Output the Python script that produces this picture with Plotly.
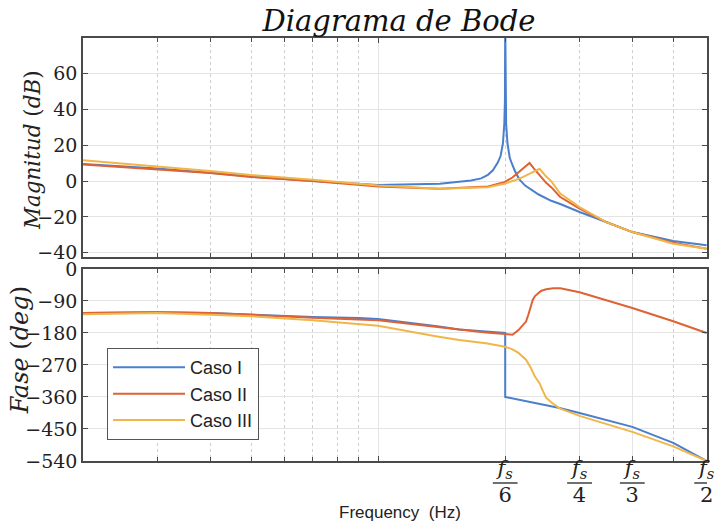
import math
import plotly.graph_objects as go

# ---------------- data ----------------
# Magnitude (dB)
f_mag_I = [200, 300, 400, 500, 700, 1000, 1400, 1660, 1754, 1820, 1870, 1922, 1950, 1975, 1990, 1997, 2000,
           2003, 2010, 2025, 2050, 2080, 2110, 2160, 2230, 2400, 2570, 2700, 3000, 3470, 4000, 5000, 6000]
mag_I = [9.5, 7.0, 4.7, 2.5, 0.0, -2.2, -1.5, 0.3, 1.5, 3.5, 6.0, 10.5, 14.0, 21.0, 32.0, 45.0, 90.0,
         45.0, 32.0, 21.0, 13.0, 9.0, 5.5, 1.0, -2.5, -7.5, -11.0, -12.8, -17.3, -22.9, -28.5, -33.5, -35.9]

f_mag_II = [200, 300, 400, 500, 700, 1000, 1400, 1820, 1990, 2080, 2150, 2220, 2284, 2340, 2393, 2440, 2500,
            2570, 2700, 3000, 3470, 4000, 5000, 6000]
mag_II = [9.3, 6.7, 4.5, 2.3, 0.0, -3.0, -4.3, -3.0, -0.6, 2.0, 5.0, 8.0, 10.1, 7.0, 4.1, 1.5, -1.0,
          -3.4, -8.9, -15.4, -22.9, -28.5, -34.5, -37.8]

f_mag_III = [200, 300, 400, 500, 700, 1000, 1400, 1820, 1990, 2100, 2200, 2300, 2413, 2450, 2500, 2570, 2700,
             3000, 3470, 4000, 5000, 6000]
mag_III = [11.6, 8.2, 5.6, 3.4, 0.8, -2.4, -4.3, -3.4, -1.5, 0.3, 2.2, 4.5, 6.9, 5.0, 2.5, 0.0, -7.0,
           -14.5, -22.9, -28.5, -35.0, -37.8]

# Phase (deg)
f_ph_I = [200, 300, 400, 500, 700, 900, 1000, 1380, 1556, 1800, 2000, 2000, 2430, 2690, 3000, 4000, 5000, 6000]
ph_I = [-124, -122, -124, -128.5, -135, -138, -141, -161, -170, -176, -180, -360, -379, -391, -405, -444, -489, -540]

f_ph_II = [200, 300, 400, 500, 700, 1000, 1380, 1556, 1800, 2000, 2080, 2150, 2200, 2240, 2270, 2300, 2323,
           2350, 2400, 2430, 2500, 2600, 2700, 3000, 4000, 5000, 6000]
ph_II = [-124, -122, -124, -130, -137, -144.5, -164, -172, -179, -183, -185, -172, -160, -148, -128, -105, -88,
         -77, -66, -62, -57, -54, -54.5, -65.7, -110, -147, -180]

f_ph_III = [200, 300, 400, 500, 700, 900, 1000, 1380, 1556, 1800, 2000, 2080, 2150, 2240, 2300, 2350, 2413,
            2460, 2500, 2570, 2640, 2690, 3000, 4000, 5000, 6000]
ph_III = [-127, -124, -128.5, -133, -144.5, -154, -160, -190, -200, -209, -219, -226, -236, -255, -278, -302, -322,
          -345, -362, -375, -386, -392, -413, -458, -499, -540]

names = ["Caso I", "Caso II", "Caso III"]
colors = ["#4A7FCC", "#DE6233", "#F0B64A"]

mag_tick_vals = [-40, -20, 0, 20, 40, 60]
phase_tick_vals = [-540, -450, -360, -270, -180, -90, 0]
fs_tick_vals = [2000, 3000, 4000, 6000]
fs_divisors = ["6", "4", "3", "2"]
minor_freqs = [300, 400, 500, 600, 700, 800, 900, 5000]

# ---------------- figure ----------------
fig = go.Figure()
mags = [(f_mag_I, mag_I), (f_mag_II, mag_II), (f_mag_III, mag_III)]
phs = [(f_ph_I, ph_I), (f_ph_II, ph_II), (f_ph_III, ph_III)]
for (fx, fy), nm, c in zip(mags, names, colors):
    fig.add_trace(go.Scatter(x=fx, y=fy, mode="lines", name=nm, line=dict(color=c, width=2),
                             xaxis="x", yaxis="y", showlegend=False))
for (fx, fy), nm, c in zip(phs, names, colors):
    fig.add_trace(go.Scatter(x=fx, y=fy, mode="lines", name=nm, line=dict(color=c, width=2),
                             xaxis="x2", yaxis="y2", showlegend=True))

serif = "DejaVu Serif"
sans = "Liberation Sans"
axcol = "#4a4a4a"
xr = [math.log10(200), math.log10(6000) + 0.0008]

frac_text = [""] + ["<i>f<sub>s</sub></i><br>" + d for d in fs_divisors]

common_x = dict(type="log", range=xr, domain=[0, 1], ticks="inside", ticklen=5, tickwidth=1, tickcolor=axcol,
                showline=True, linecolor=axcol, linewidth=1.5, mirror="ticks", showgrid=True,
                gridcolor="#e4e4e4", gridwidth=1, zeroline=False, automargin=False)
common_y = dict(ticks="inside", ticklen=5, tickwidth=1, tickcolor=axcol, showline=True, linecolor=axcol,
                linewidth=1.5, mirror="ticks", showgrid=True, gridcolor="#e4e4e4", gridwidth=1, zeroline=False,
                automargin=False, tickfont=dict(family=serif, size=19, color="#222"))

# fraction bars under f_s in the tick labels
frac_bars = [dict(type="line", xref="x2", yref="paper", x0=v / 1.07, x1=v * 1.07, y0=-0.052, y1=-0.052,
                  line=dict(color="#222", width=1.3)) for v in fs_tick_vals]

fig.update_layout(
    width=718, height=526,
    margin=dict(l=83, r=11, t=38, b=65, autoexpand=False),
    paper_bgcolor="white", plot_bgcolor="white",
    title=dict(text="<i>Diagrama de Bode</i>", x=0.5557, xanchor="center", y=0.96, yanchor="middle",
               font=dict(family=serif, size=29, color="#111")),
    xaxis=dict(common_x, anchor="y", tickmode="array", tickvals=[1000], showticklabels=False,
               minor=dict(tickmode="array", tickvals=minor_freqs[:-1] + [2000, 3000, 4000, 5000],
                          ticks="inside", ticklen=4, tickcolor=axcol, showgrid=True,
                          gridcolor="#cfcfcf", griddash="dot")),
    yaxis=dict(common_y, anchor="x", domain=[0.482, 1], range=[-42.5, 80], tickmode="array",
               tickvals=mag_tick_vals),
    xaxis2=dict(common_x, anchor="y2", tickmode="array", tickvals=[1000] + fs_tick_vals, ticktext=frac_text,
                tickfont=dict(family=serif, size=21, color="#222"), ticklabeloverflow="allow",
                ticklabelstandoff=-13,
                minor=dict(tickmode="array", tickvals=minor_freqs, ticks="inside", ticklen=4, tickcolor=axcol,
                           showgrid=True, gridcolor="#cfcfcf", griddash="dot")),
    yaxis2=dict(common_y, anchor="x2", domain=[0, 0.454], range=[-540, 0], tickmode="array",
                tickvals=phase_tick_vals),
    legend=dict(x=0.0385, y=0.267, xanchor="left", yanchor="top", bgcolor="white", bordercolor="#555",
                borderwidth=1, itemwidth=72, font=dict(family=sans, size=18, color="#222")),
    shapes=frac_bars,
    annotations=[
        dict(text="<i>Magnitud</i> (<i>dB</i>)", xref="paper", yref="paper", x=-0.0817, y=0.735,
             textangle=-90, showarrow=False, xanchor="center", yanchor="middle",
             font=dict(family=serif, size=21.5, color="#222")),
        dict(text="<i>Fase</i> (<i>deg</i>)", xref="paper", yref="paper", x=-0.101, y=0.262,
             textangle=-90, showarrow=False, xanchor="center", yanchor="middle",
             font=dict(family=serif, size=24, color="#222")),
        dict(text="Frequency  (Hz)", xref="paper", yref="paper", x=0.508, y=-0.1206,
             showarrow=False, xanchor="center", yanchor="middle",
             font=dict(family=sans, size=17, color="#222")),
    ],
)

fig.write_html("out.html", config={"displayModeBar": False},
               post_script="document.body.style.margin='0';document.body.style.padding='0';")
